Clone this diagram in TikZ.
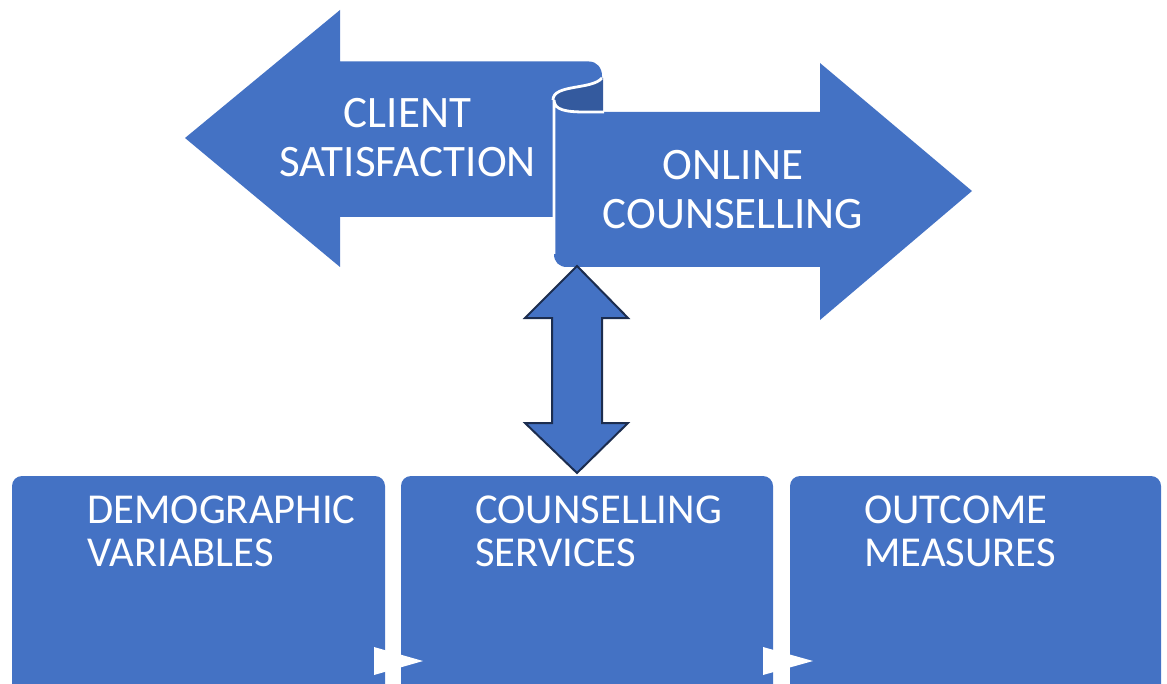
\documentclass[tikz,border=0pt]{standalone}
\usepackage{fontspec}
\setmainfont{Carlito}
\definecolor{boxblue}{HTML}{4472C4}
\definecolor{rolldark}{HTML}{345A9E}
\definecolor{edgenavy}{HTML}{1C2D4F}
\begin{document}
\begin{tikzpicture}[x=0.5pt,y=-0.5pt,
  blueshape/.style={fill=boxblue,draw=none},
  panel/.style={fill=boxblue,draw=none,rounded corners=5pt},
  bigtext/.style={text=white,inner sep=0pt,align=center,
    font=\fontsize{22.5}{24.5}\selectfont},
  paneltext/.style={text=white,inner sep=0pt,align=left,anchor=west,
    font=\fontsize{21.3}{21.5}\selectfont},
  rollline/.style={draw=white,line width=1.4pt},
  flowtip/.style={fill=white,draw=none}]
\useasboundingbox (0,0) rectangle (1167,684);
\clip (0,0) rectangle (1167,684);

% three panels along the bottom
\path[panel] (12,720) -- (12,476) -- (385,476) -- (385,720) -- cycle;
\path[panel] (401,720) -- (401,476) -- (773,476) -- (773,720) -- cycle;
\path[panel] (790,720) -- (790,476) -- (1161,476) -- (1161,720) -- cycle;
\node[paneltext] (demo) at (87,531.5) {DEMOGRAPHIC\\VARIABLES};
\node[paneltext] (serv) at (475,531.5) {COUNSELLING\\SERVICES};
\node[paneltext] (outc) at (864,531.5) {OUTCOME\\MEASURES};

% small flow markers between the panels
\path[flowtip] (374,647) -- (423,661) -- (374,675) -- cycle;
\path[flowtip] (763,647) -- (813,661) -- (763,675) -- cycle;

% left-pointing arrow
\path[blueshape] (185,138) -- (340,10) -- (340,61.5) -- (589,61.5)
  .. controls (597,61.5) and (602,68) .. (602,76) -- (602,112)
  -- (553,112) -- (553,217) -- (340,217) -- (340,267) -- cycle;

% inside of the rolled edge
\path[fill=rolldark] (602,78) .. controls (592,90) and (553,84) .. (553,100)
  -- (553,112) -- (603,112) -- (603,78) -- cycle;
\path[rollline] (602,78) .. controls (592,90) and (553,84) .. (553,100);

% right-pointing arrow, with the rolled edge outlined in white
\path[blueshape]
  (554,100) .. controls (554,110) and (566,112) .. (585,112)
  -- (820,112) -- (820,63) -- (972,191) -- (820,320) -- (820,267)
  -- (567,267) .. controls (559,267) and (554,262) .. (554,254) -- cycle;
\path[rollline] (604,112) -- (585,112) .. controls (566,112) and (554,110) .. (554,100)
  -- (554,254);

\node[bigtext] (client) at (407.5,138) {CLIENT\\SATISFACTION};
\node[bigtext] (online) at (733,190) {ONLINE\\COUNSELLING};

% vertical double-headed arrow
\path[fill=boxblue,draw=edgenavy,line width=1pt,line join=miter]
  (577,266) -- (628,318) -- (602,318) -- (602,423) -- (628,423)
  -- (577,473) -- (525,423) -- (552,423) -- (552,318) -- (525,318) -- cycle;
\end{tikzpicture}
\end{document}
